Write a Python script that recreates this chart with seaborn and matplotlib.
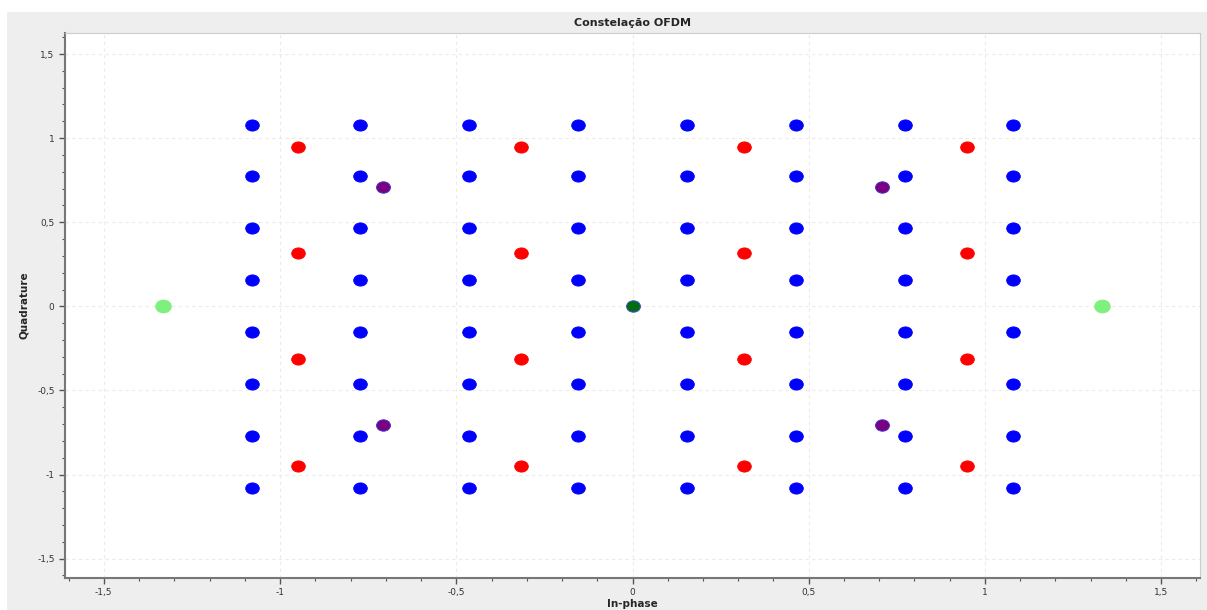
import matplotlib
matplotlib.use('Agg')
import matplotlib.pyplot as plt
from matplotlib.markers import MarkerStyle
from matplotlib.path import Path
from matplotlib.patches import Rectangle
from matplotlib.ticker import MultipleLocator, FuncFormatter
from matplotlib.transforms import Affine2D
import seaborn as sns
import pandas as pd

# niveis de amplitude
qam64_levels = [-1.080, -0.772, -0.463, -0.154, 0.154, 0.463, 0.772, 1.080]
qam16_levels = [-0.949, -0.316, 0.316, 0.949]
qpsk_levels = [-0.707, 0.707]

qam64_i = [i for i in qam64_levels for q in qam64_levels]
qam64_q = [q for i in qam64_levels for q in qam64_levels]
qam16_i = [i for i in qam16_levels for q in qam16_levels]
qam16_q = [q for i in qam16_levels for q in qam16_levels]
qpsk_i = [i for i in qpsk_levels for q in qpsk_levels]
qpsk_q = [q for i in qpsk_levels for q in qpsk_levels]
pilot_i = [-1.333, 1.333]
pilot_q = [0.0, 0.0]
dc_i = [0.0]
dc_q = [0.0]

groups = ['64-QAM', '16-QAM', 'QPSK', 'Piloto', 'DC']
colors = {'64-QAM': '#0000ff', '16-QAM': '#ff0000', 'QPSK': '#7a0082',
          'Piloto': '#7ef07e', 'DC': '#006e10'}
edges = {'64-QAM': '#0000ff', '16-QAM': '#ff0000', 'QPSK': '#4a30c8',
         'Piloto': '#7ef07e', 'DC': '#3a50c8'}
sizes = {'64-QAM': 95, '16-QAM': 95, 'QPSK': 100, 'Piloto': 125, 'DC': 100}

df = pd.concat([
    pd.DataFrame({'I': qam64_i, 'Q': qam64_q, 'grupo': '64-QAM'}),
    pd.DataFrame({'I': qam16_i, 'Q': qam16_q, 'grupo': '16-QAM'}),
    pd.DataFrame({'I': qpsk_i, 'Q': qpsk_q, 'grupo': 'QPSK'}),
    pd.DataFrame({'I': pilot_i, 'Q': pilot_q, 'grupo': 'Piloto'}),
    pd.DataFrame({'I': dc_i, 'Q': dc_q, 'grupo': 'DC'}),
], ignore_index=True)

sns.set_style('white')
plt.rcParams['font.family'] = ['DejaVu Sans']

fig = plt.figure(figsize=(12.07, 6.10), dpi=100, facecolor='white')
# painel cinza de fundo
fig.patches.append(Rectangle((7 / 1207, 0), 1, 1 - 12 / 610, transform=fig.transFigure,
                             facecolor='#eeeeee', edgecolor='none', zorder=-10))

ax = fig.add_axes([65 / 1207, 1 - 578 / 610, 1135 / 1207, 545 / 610])
ax.set_facecolor('white')

ellipse = MarkerStyle(Path.unit_circle().transformed(Affine2D().scale(1.0, 0.82)))

for g in groups:
    sub = df[df['grupo'] == g]
    sns.scatterplot(data=sub, x='I', y='Q', ax=ax, color=colors[g], marker=ellipse,
                    s=sizes[g], edgecolor=edges[g], linewidth=0.7, legend=False, zorder=3)

ax.set_xlim(-1.61, 1.61)
ax.set_ylim(-1.615, 1.625)

fmt = FuncFormatter(lambda v, p: ('%g' % round(v, 2)).replace('.', ','))
for axis in (ax.xaxis, ax.yaxis):
    axis.set_major_locator(MultipleLocator(0.5))
    axis.set_minor_locator(MultipleLocator(0.1))
    axis.set_major_formatter(fmt)

ax.grid(True, which='major', color='#ebebeb', linestyle=(0, (3, 3)), linewidth=0.8)
ax.tick_params(axis='both', which='major', direction='out', length=4, width=1,
               color='#555555', labelsize=6.5, labelcolor='#333333',
               left=True, bottom=True)
ax.tick_params(axis='both', which='minor', direction='out', length=2.5, width=0.8,
               color='#555555', left=True, bottom=True)

for side in ['top', 'right']:
    ax.spines[side].set_color('#cccccc')
    ax.spines[side].set_linewidth(0.8)
for side in ['left', 'bottom']:
    ax.spines[side].set_color('#777777')
    ax.spines[side].set_linewidth(1.5)

ax.set_xlabel('In-phase', fontsize=7.5, fontweight='bold', labelpad=1)
ax.set_ylabel('Quadrature', fontsize=7.5, fontweight='bold', labelpad=6)
ax.set_title('Constelação OFDM', fontsize=8, fontweight='bold', pad=5)

fig.savefig('out.png', dpi=100, facecolor=fig.get_facecolor())
